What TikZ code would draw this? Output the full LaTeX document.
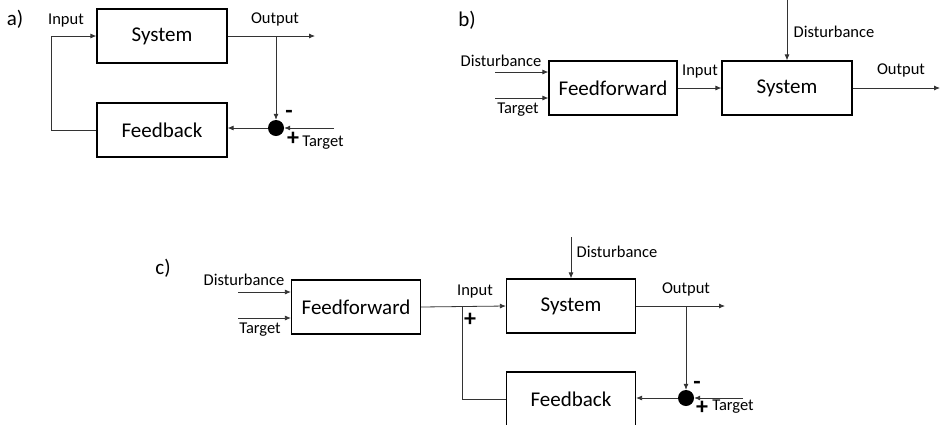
\documentclass[tikz,border=0pt]{standalone}
\usepackage{fontspec}
\setmainfont{Carlito}
\usetikzlibrary{arrows.meta}

\tikzset{
  block/.style={draw, line width=1.2pt, minimum width=130pt, minimum height=54pt,
    inner sep=0pt, font=\fontsize{21}{25}\selectfont},
  lbl/.style={inner sep=0pt, font=\fontsize{16.5}{19}\selectfont},
  tag/.style={inner sep=0pt, font=\fontsize{21}{25}\selectfont},
  sign/.style={inner sep=0pt, font=\fontsize{24}{28}\selectfont\bfseries},
  sumpt/.style={circle, fill, minimum size=16pt, inner sep=0pt},
  sig/.style={-{Latex[length=6pt,width=5pt]}, line width=0.8pt, black!80},
  wire/.style={line width=0.8pt, black!80}
}

\begin{document}
\begin{tikzpicture}[x=1pt,y=-1pt]
\useasboundingbox (0,0) rectangle (944,424);

% a)
\node[tag] (labA) at (15,19) {a)};
\node[block] (sysA) at (162,36) {System};
\node[block] (fbA) at (162,130) {Feedback};
\node[sumpt] (sumA) at (276,128) {};
\coordinate (outA) at (315,36);
\coordinate (jA) at (276,36);
\coordinate (tgtA) at (334,128);
\draw[sig] (fbA.west) -- ++(-45,0) |- (sysA.west);
\draw[sig] (sysA.east) -- (outA);
\draw[sig] (jA) -- (sumA);
\draw[sig] (tgtA) -- (sumA);
\draw[sig] (sumA) -- (fbA.east |- sumA);
\node[lbl] (inlA) at (66,21) {Input};
\node[lbl] (outlA) at (275,19) {Output};
\node[sign] (minA) at (289,114) {-};
\node[sign] (plusA) at (293,139) {+};
\node[lbl] (tgtlA) at (323,143) {Target};

% b)
\node[tag] (labB) at (467,20) {b)};
\node[block, minimum width=128pt] (ffB) at (613,88) {Feedforward};
\node[block] (sysB) at (787,88) {System};
\coordinate (dinB) at (495,72);
\coordinate (tinB) at (495,98);
\coordinate (dtopB) at (787,0);
\coordinate (outB) at (940,88);
\draw[sig] (dinB) -- (dinB -| ffB.west);
\draw[sig] (tinB) -- (tinB -| ffB.west);
\draw[sig] (ffB.east) -- (sysB.west);
\draw[sig] (dtopB) -- (sysB.north);
\draw[sig] (sysB.east) -- (outB);
\node[lbl] (dlB) at (501,61) {Disturbance};
\node[lbl] (tlB) at (518,110) {Target};
\node[lbl] (inlB) at (700,72) {Input};
\node[lbl] (dtlB) at (834,32) {Disturbance};
\node[lbl] (outlB) at (901,70) {Output};

% c)
\node[tag] (labC) at (163,268) {c)};
\node[block, minimum width=129pt] (ffC) at (356,307) {Feedforward};
\node[block, minimum width=129pt] (sysC) at (571,306) {System};
\node[block, minimum width=129pt] (fbC) at (571,399) {Feedback};
\node[sumpt] (sumC) at (686,398) {};
\coordinate (dinC) at (238,292);
\coordinate (tinC) at (238,318);
\coordinate (jC) at (462,306);
\coordinate (dtopC) at (571,237);
\coordinate (outC) at (725,306);
\coordinate (jC2) at (686,306);
\coordinate (tgtC) at (743,398);
\draw[sig] (dinC) -- (dinC -| ffC.west);
\draw[sig] (tinC) -- (tinC -| ffC.west);
\draw[sig] (ffC.east) -- (sysC.west);
\draw[wire] (fbC.west) -| (jC);
\draw[sig] (dtopC) -- (sysC.north);
\draw[sig] (sysC.east) -- (outC);
\draw[sig] (jC2) -- (sumC);
\draw[sig] (tgtC) -- (sumC);
\draw[sig] (sumC) -- (fbC.east |- sumC);
\node[lbl] (dlC) at (244,280) {Disturbance};
\node[lbl] (tlC) at (260,330) {Target};
\node[lbl] (inlC) at (475,292) {Input};
\node[sign] (plusJC) at (470,320) {+};
\node[lbl] (dtlC) at (617,252) {Disturbance};
\node[lbl] (outlC) at (686,289) {Output};
\node[sign] (minC) at (697,385) {-};
\node[sign] (plusC) at (702,408) {+};
\node[lbl] (tgtlC) at (733,407) {Target};
\end{tikzpicture}
\end{document}
